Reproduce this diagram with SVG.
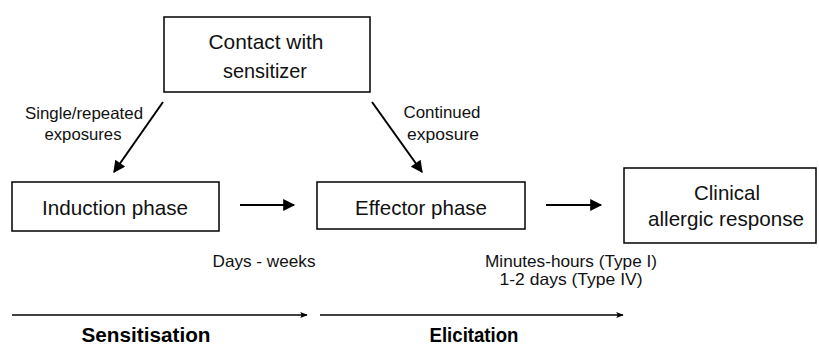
<svg xmlns="http://www.w3.org/2000/svg" width="819" height="347" viewBox="0 0 819 347">
<defs>
<style>
.box{fill:#fff;stroke:#000;stroke-width:1.5}
.bt{font-family:"Liberation Sans",Arial,sans-serif;font-size:21px;fill:#111;text-anchor:middle}
.lb{font-family:"Liberation Sans",Arial,sans-serif;font-size:16.5px;fill:#111;text-anchor:middle}
.hd{font-family:"Liberation Sans",Arial,sans-serif;font-size:19.5px;font-weight:bold;fill:#000;text-anchor:middle}
.ln{stroke:#000;stroke-width:2;fill:none}
.thin{stroke:#000;stroke-width:1.5;fill:none}
</style>
<marker id="ah" viewBox="0 0 10 10" refX="9" refY="5" markerWidth="7" markerHeight="6" markerUnits="strokeWidth" orient="auto">
<path d="M0,0 L10,5 L0,10 Z" fill="#000"/>
</marker>
<marker id="ahs" viewBox="0 0 10 10" refX="9" refY="5" markerWidth="6" markerHeight="5" markerUnits="strokeWidth" orient="auto">
<path d="M0,1 L10,5 L0,9 L2,5 Z" fill="#000"/>
</marker>
</defs>
<rect width="819" height="347" fill="#fff"/>
<g id="contact">
<rect class="box" x="164" y="17" width="206" height="75"/>
<text class="bt" x="266" y="49" textLength="115" lengthAdjust="spacingAndGlyphs">Contact with</text>
<text class="bt" x="265" y="78" textLength="84" lengthAdjust="spacingAndGlyphs">sensitizer</text>
</g>
<g id="induction">
<rect class="box" x="12" y="182" width="207" height="49"/>
<text class="bt" x="115" y="215" textLength="146" lengthAdjust="spacingAndGlyphs">Induction phase</text>
</g>
<g id="effector">
<rect class="box" x="317" y="182" width="208" height="47"/>
<text class="bt" x="421" y="215" textLength="132" lengthAdjust="spacingAndGlyphs">Effector phase</text>
</g>
<g id="clinical">
<rect class="box" x="624" y="168" width="192" height="75"/>
<text class="bt" x="727" y="200" textLength="66" lengthAdjust="spacingAndGlyphs">Clinical</text>
<text class="bt" x="726" y="226" textLength="156" lengthAdjust="spacingAndGlyphs">allergic response</text>
</g>
<g id="connectors">
<line class="ln" x1="163" y1="102" x2="114" y2="172" marker-end="url(#ah)"/>
<line class="ln" x1="372" y1="102" x2="422" y2="172" marker-end="url(#ah)"/>
<line class="ln" x1="240" y1="205" x2="294" y2="205" marker-end="url(#ah)"/>
<line class="ln" x1="546" y1="205" x2="601" y2="205" marker-end="url(#ah)"/>
<line class="thin" x1="12" y1="315" x2="307" y2="315" marker-end="url(#ahs)"/>
<line class="thin" x1="320" y1="315" x2="623" y2="315" marker-end="url(#ahs)"/>
</g>
<g id="labels">
<text class="lb" x="84" y="119" textLength="118" lengthAdjust="spacingAndGlyphs">Single/repeated</text>
<text class="lb" x="83" y="140" textLength="77" lengthAdjust="spacingAndGlyphs">exposures</text>
<text class="lb" x="442" y="118" textLength="77" lengthAdjust="spacingAndGlyphs">Continued</text>
<text class="lb" x="443" y="140" textLength="72" lengthAdjust="spacingAndGlyphs">exposure</text>
<text class="lb" x="264" y="267" textLength="103" lengthAdjust="spacingAndGlyphs">Days - weeks</text>
<text class="lb" x="571" y="267" textLength="172" lengthAdjust="spacingAndGlyphs">Minutes-hours (Type I)</text>
<text class="lb" x="571" y="285" textLength="143" lengthAdjust="spacingAndGlyphs">1-2 days (Type IV)</text>
<text class="hd" x="146" y="342" textLength="129" lengthAdjust="spacingAndGlyphs">Sensitisation</text>
<text class="hd" x="474" y="342" textLength="89" lengthAdjust="spacingAndGlyphs">Elicitation</text>
</g>
</svg>
